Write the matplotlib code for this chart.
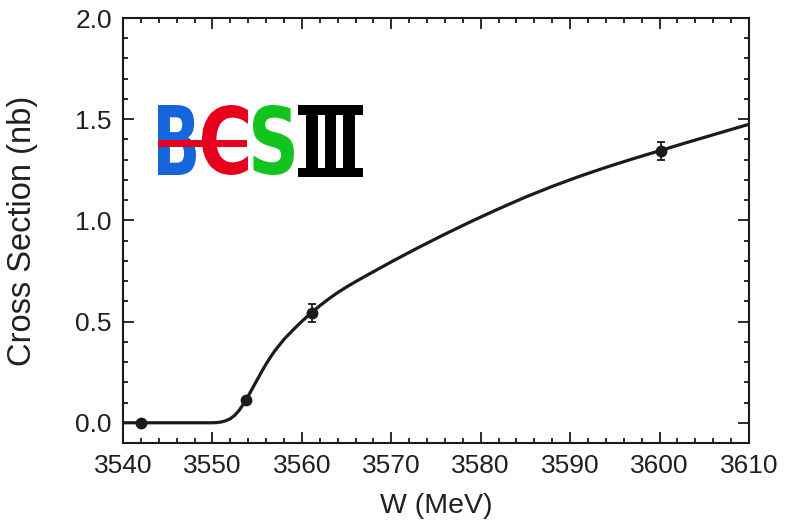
import matplotlib
matplotlib.use("Agg")
import matplotlib.pyplot as plt
from matplotlib.textpath import TextPath
from matplotlib.font_manager import FontProperties
from matplotlib.patches import PathPatch, Rectangle
from matplotlib.transforms import Affine2D

plt.rcParams['font.family'] = ['Liberation Sans', 'DejaVu Sans']

# Data points
W_pts = [3542.0, 3553.75, 3561.1, 3600.2]
xs_pts = [0.0, 0.113, 0.543, 1.343]
err_pts = [0.0, 0.0, 0.044, 0.044]

# Fitted curve
W_fit = [3540, 3545, 3550, 3550.5, 3551, 3551.5, 3552, 3552.5, 3553, 3553.5,
         3554, 3554.5, 3555, 3555.5, 3556, 3556.5, 3557, 3558, 3559, 3560,
         3561, 3562, 3563, 3564, 3565, 3566, 3567, 3570, 3573, 3576, 3579,
         3582, 3585, 3588, 3591, 3594, 3597, 3600, 3603, 3606, 3610]
xs_fit = [0.0, 0.0, 0.0, 0.001, 0.004, 0.010, 0.020, 0.037, 0.062, 0.095,
          0.132, 0.172, 0.212, 0.252, 0.290, 0.325, 0.357, 0.412, 0.458, 0.501,
          0.541, 0.578, 0.612, 0.643, 0.671, 0.697, 0.722, 0.795, 0.865,
          0.932, 0.996, 1.057, 1.115, 1.168, 1.217, 1.262, 1.304, 1.344,
          1.384, 1.423, 1.475]

x_ticks = [3540, 3550, 3560, 3570, 3580, 3590, 3600, 3610]
y_ticks = [0.0, 0.5, 1.0, 1.5, 2.0]

W_PX, H_PX = 785, 522
fig = plt.figure(figsize=(W_PX / 100, H_PX / 100), dpi=100)
L, R, T, B = 123, 749, 18, 443
ax = fig.add_axes([L / W_PX, 1 - B / H_PX, (R - L) / W_PX, (B - T) / H_PX])

ink = '#1c1a1a'
txt = '#231f20'
ax.plot(W_fit, xs_fit, color=ink, lw=2.3, zorder=3, solid_capstyle='butt')
ax.errorbar(W_pts, xs_pts, yerr=err_pts, fmt='o', color=ink, ms=7.5,
            capsize=3, elinewidth=1.3, capthick=1.3, zorder=4)

ax.set_xlim(3540, 3610)
ax.set_ylim(-0.1, 2.0)
ax.set_xticks(x_ticks)
ax.set_xticklabels([str(v) for v in x_ticks])
ax.set_yticks(y_ticks)
ax.set_yticklabels([f"{v:.1f}" for v in y_ticks])
ax.set_xticks([v for v in range(3540, 3611, 2)], minor=True)
ax.set_yticks([i / 10 for i in range(-1, 21)], minor=True)

for s in ax.spines.values():
    s.set_linewidth(1.5)
    s.set_color(ink)
ax.tick_params(which='both', direction='in', top=True, right=True, color=ink,
               width=1.3, labelsize=19, labelcolor=txt)
ax.tick_params(which='major', length=8, pad=8)
ax.tick_params(which='minor', length=3.8)

ax.set_xlabel('W (MeV)', fontsize=20.5, color=txt)
ax.xaxis.set_label_coords(0.5, -0.118)
ax.set_ylabel('Cross Section (nb)', fontsize=23.5, color=txt)
ax.yaxis.set_label_coords(-0.135, 0.5)


def fig_box(x0, y0, x1, y1):
    # pixel box (top-left origin) -> figure fraction
    return x0 / W_PX, 1 - y1 / H_PX, (x1 - x0) / W_PX, (y1 - y0) / H_PX


def letter(ch, box, color, weight='bold', family='DejaVu Sans'):
    fp = FontProperties(family=family, weight=weight)
    tp = TextPath((0, 0), ch, size=100, prop=fp)
    bb = tp.get_extents()
    fx, fy, fw, fh = fig_box(*box)
    tr = (Affine2D().translate(-bb.x0, -bb.y0)
          .scale(fw / bb.width, fh / bb.height)
          .translate(fx, fy) + fig.transFigure)
    fig.patches.append(PathPatch(tp, transform=tr, facecolor=color,
                                 edgecolor='none', zorder=5))


# BESIII logo (decoration)
blue, red, green = '#1565dc', '#e6001e', '#14c41e'
letter('B', (158, 105, 196, 175), blue)
letter('C', (202, 105, 248, 175), red)
letter('S', (253, 105, 294, 175), green)
fx, fy, fw, fh = fig_box(158, 140, 247, 147)
fig.patches.append(Rectangle((fx, fy), fw, fh, transform=fig.transFigure,
                             facecolor=red, edgecolor='none', zorder=6))
for (x0, y0, x1, y1) in [(298, 105, 363, 115), (298, 168, 363, 177),
                         (306, 105, 318, 177), (325, 105, 336, 177),
                         (343, 105, 355, 177)]:
    fx, fy, fw, fh = fig_box(x0, y0, x1, y1)
    fig.patches.append(Rectangle((fx, fy), fw, fh, transform=fig.transFigure,
                                 facecolor='black', edgecolor='none', zorder=5))

fig.savefig('out.png', dpi=100)
